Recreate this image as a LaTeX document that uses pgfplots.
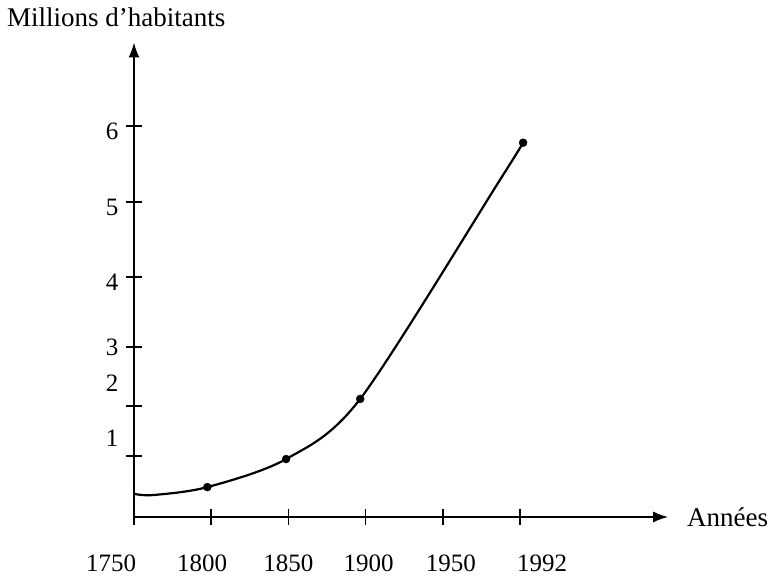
\documentclass[border=0pt]{standalone}
\usepackage{pgfplots}
\pgfplotsset{compat=1.18}
\usepackage{fontspec}
\setmainfont{Liberation Serif}
\usetikzlibrary{arrows.meta}
\begin{document}
\begin{tikzpicture}[x=1pt,y=1pt]
\path[use as bounding box] (0,0) rectangle (776,578);
\begin{axis}[
  at={(134pt,61pt)}, anchor=south west,
  scale only axis,
  x=77.2pt, y=1pt,
  xmin=0, xmax=6.92,
  ymin=0, ymax=7.1,
  y coord trafo/.code={\pgfmathparse{#1<1 ? 61*#1 : (#1<2 ? 61+50*(#1-1) : (#1<3 ? 111+59*(#1-2) : (#1<4 ? 170+70*(#1-3) : (#1<5 ? 240+75*(#1-4) : 315+76*(#1-5)))))}},
  axis lines=left,
  axis line style={line width=2pt, -{Latex[length=15pt,width=11pt]}},
  xtick={0,1,2,3,4,5},
  xticklabels={\hspace*{-46pt}1750,\hspace*{-18pt}1800,1850,\hspace*{6pt}1900,\hspace*{16pt}1950,\hspace*{44pt}1992},
  ytick={1,2,3,4,5,6},
  yticklabels={\raisebox{18pt}[17pt][0pt]{1},\raisebox{23pt}[17pt][0pt]{2},3,\raisebox{-5pt}[17pt][0pt]{4},\raisebox{-5pt}[17pt][0pt]{5},\raisebox{-5pt}[17pt][0pt]{6}},
  tick align=center,
  major tick length=16pt,
  tick style={line width=1.6pt, black},
  tick label style={font=\fontsize{25}{25}\selectfont},
  xticklabel style={yshift=-26pt},
  yticklabel style={xshift=-4pt},
  clip=false,
]
\addplot[black, line width=2.2pt, smooth, tension=0.5] coordinates {
  (0,0.38) (0.25,0.36) (0.95,0.49) (1.97,0.95) (2.93,2.12) (4.74,5.29) (5.04,5.78)
};
\addplot[only marks, mark=*, mark size=4pt, black] coordinates {
  (0.95,0.49) (1.97,0.95) (2.93,2.12) (5.04,5.78)
};
\end{axis}
\node[anchor=base west, font=\fontsize{27}{27}\selectfont, inner sep=0pt] at (7,551) {Millions d’habitants};
\node[anchor=west, font=\fontsize{27}{27}\selectfont, inner sep=0pt] at (687,61) {Années};
\end{tikzpicture}
\end{document}
